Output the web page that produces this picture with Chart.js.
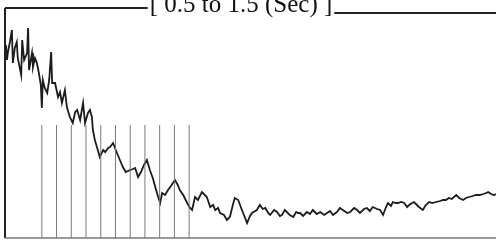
<!DOCTYPE html>
<html>
<head>
<meta charset="utf-8">
<script src="https://cdn.jsdelivr.net/npm/chart.js@4/dist/chart.umd.min.js"></script>
<style>
  html, body { margin: 0; padding: 0; background: #fff; }
  #wrap { width: 496px; height: 240px; }
</style>
</head>
<body>
<div id="wrap"><canvas id="traceChart" width="496" height="240"></canvas></div>
<script>
// titulo del registro
var tituloTrazo = '[ 0.5 to 1.5 (Sec) ]';

// tiempo en ms (0.5 a 1.5 s)
var tiempos = [500,502,504,506,510,514,516,520,524,526,533,535,539,545,547,549,555,557,561,565,
  569,573,575,577,581,586,590,594,596,602,608,612,616,622,626,632,638,643,647,653,
  659,663,669,673,677,679,683,689,693,700,704,710,714,720,724,728,734,740,746,755,
  761,765,771,777,783,789,795,801,806,812,816,820,826,832,838,846,852,856,863,871,
  877,881,887,893,901,907,911,918,924,928,934,938,946,952,958,964,968,975,981,985,
  993,999,1003,1013,1019,1025,1030,1036,1040,1048,1054,1060,1064,1070,1074,1080,1087,1093,1097,1101,
  1107,1115,1121,1127,1135,1142,1150,1156,1162,1168,1176,1182,1188,1197,1203,1211,1217,1223,1231,1237,
  1243,1249,1258,1264,1270,1276,1280,1286,1290,1296,1300,1307,1313,1319,1323,1329,1333,1339,1343,1351,
  1357,1364,1370,1378,1386,1392,1398,1404,1410,1419,1425,1433,1439,1445,1453,1459,1467,1474,1480,1484,
  1490,1496,1500];

var amplitudes = [188,193,178,186,196,208,175,190,196,180,163,198,178,185,210,168,185,171,180,175,
  165,153,130,158,150,145,158,186,155,155,141,146,135,148,131,121,115,126,128,118,
  135,115,125,128,121,108,98,88,81,88,86,90,91,95,90,85,78,71,66,68,
  69,70,61,66,73,78,68,60,51,41,35,45,43,48,52,58,53,48,43,35,
  30,28,41,38,46,43,41,31,33,28,30,25,23,18,21,33,40,38,30,25,
  15,22,25,28,33,29,30,25,23,28,26,22,23,28,26,23,21,26,25,25,
  22,26,24,28,24,26,23,25,27,23,26,30,28,25,26,30,28,25,29,30,
  27,31,29,28,23,31,35,32,36,35,35,36,35,31,33,35,36,33,31,28,
  33,36,35,36,37,38,38,40,39,43,40,38,40,41,42,43,43,44,45,46,
  44,43,44];

// marcas verticales (ms) y su altura
var marcasTiempo = [575,605,635,665,695,725,755,785,815,845,875];
var alturaMarca = 113;

var puntosTrazo = [];
for (var i = 0; i < tiempos.length; i++) {
  puntosTrazo.push({x: tiempos[i], y: amplitudes[i]});
}

var puntosMarcas = [];
for (var m of marcasTiempo) {
  puntosMarcas.push({x: m, y: 0});
  puntosMarcas.push({x: m, y: alturaMarca});
  puntosMarcas.push({x: m, y: null});
}

// marco y titulo como en el papel escaneado
var marcoPlugin = {
  id: 'marco',
  afterDraw: function(chart) {
    var ctx = chart.ctx;
    var a = chart.chartArea;
    ctx.save();
    ctx.font = '25px "Liberation Serif", serif';
    var w = ctx.measureText(tituloTrazo).width;
    var cx = 241;
    ctx.fillStyle = '#111';
    ctx.textAlign = 'center';
    ctx.textBaseline = 'alphabetic';
    ctx.fillText(tituloTrazo, cx, 12);

    ctx.strokeStyle = '#222';
    ctx.lineWidth = 2;
    ctx.beginPath();
    ctx.moveTo(a.left, a.top);
    ctx.lineTo(cx - w / 2 - 2, a.top);
    ctx.stroke();
    ctx.beginPath();
    ctx.moveTo(cx + w / 2 + 2, a.top + 5);
    ctx.lineTo(a.right, a.top + 5);
    ctx.stroke();
    ctx.beginPath();
    ctx.moveTo(a.left, a.top);
    ctx.lineTo(a.left, a.bottom);
    ctx.stroke();
    ctx.strokeStyle = '#777';
    ctx.lineWidth = 1.5;
    ctx.beginPath();
    ctx.moveTo(a.left, a.bottom);
    ctx.lineTo(a.right, a.bottom);
    ctx.stroke();
    ctx.restore();
  }
};

var canvas = document.getElementById('traceChart').getContext('2d');
new Chart(canvas, {
  type: 'line',
  data: {
    datasets: [
      {
        label: 'marcas',
        data: puntosMarcas,
        borderColor: '#7a7a7a',
        borderWidth: 1,
        pointRadius: 0,
        spanGaps: false,
        tension: 0
      },
      {
        label: 'trazo',
        data: puntosTrazo,
        borderColor: '#1c1c1c',
        borderWidth: 1.8,
        pointRadius: 0,
        tension: 0
      }
    ]
  },
  options: {
    responsive: false,
    animation: false,
    layout: { padding: { left: 5, right: 0, top: 8, bottom: 2 } },
    plugins: { legend: { display: false }, tooltip: { enabled: false } },
    scales: {
      x: { type: 'linear', min: 500, max: 1500, display: false },
      y: { min: 0, max: 230, display: false }
    }
  },
  plugins: [marcoPlugin]
});
</script>
</body>
</html>
